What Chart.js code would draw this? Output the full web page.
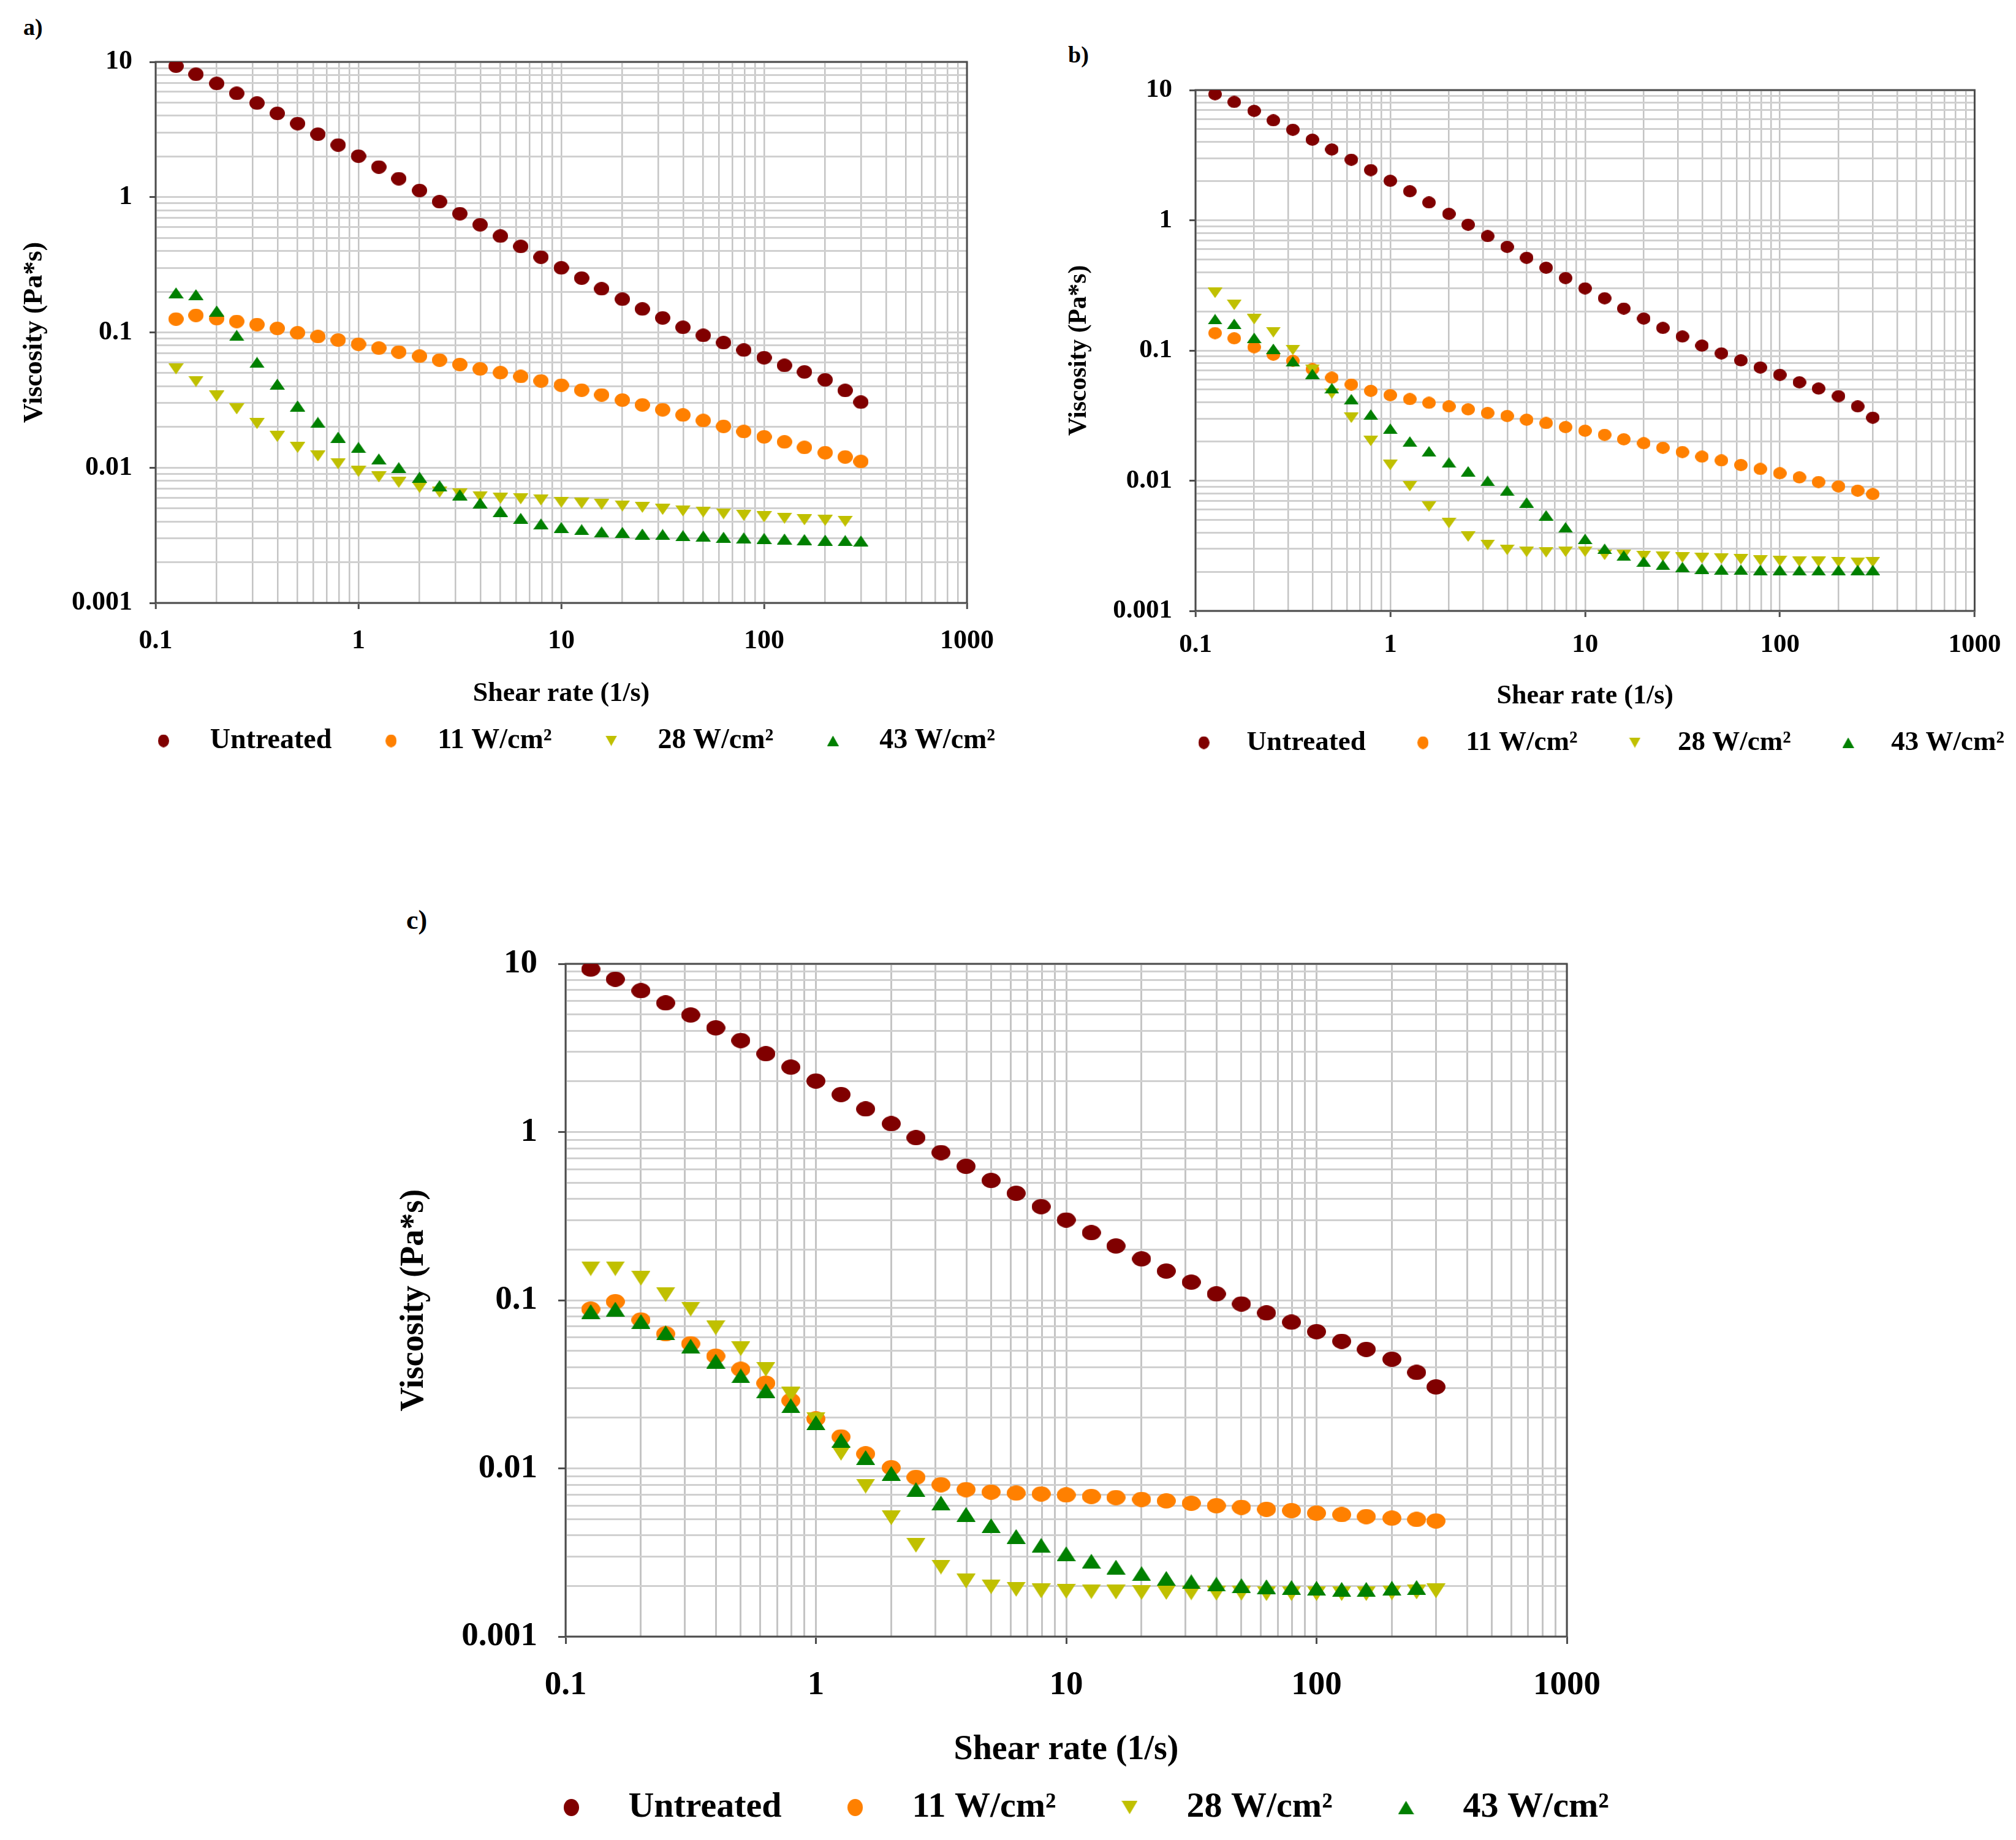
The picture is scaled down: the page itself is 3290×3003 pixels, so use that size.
<!DOCTYPE html>
<html>
<head>
<meta charset="utf-8">
<script src="https://cdn.jsdelivr.net/npm/chart.js@4.4.1/dist/chart.umd.min.js"></script>
<style>
html,body{margin:0;padding:0;background:#fff;width:3290px;height:3003px;overflow:hidden;position:relative;}
canvas{position:absolute;}
.lbl{position:absolute;font-family:"Liberation Serif","Times New Roman",serif;font-weight:bold;color:#000;line-height:1;}
</style>
</head>
<body>
<div class="lbl" style="left:38px;top:25px;font-size:38px">a)</div>
<div class="lbl" style="left:1743px;top:70px;font-size:38px">b)</div>
<div class="lbl" style="left:663px;top:1480px;font-size:44px">c)</div>
<canvas id="ca" width="1900" height="1300" style="left:-150px;top:0px;width:1900px;height:1300px"></canvas>
<canvas id="cb" width="1840" height="1240" style="left:1450px;top:60px;width:1840px;height:1240px"></canvas>
<canvas id="cc" width="2300" height="1550" style="left:500px;top:1450px;width:2300px;height:1550px"></canvas>
<script>
// ---------------- data ----------------
const shearRate = [0.126, 0.158, 0.2, 0.251, 0.316, 0.398, 0.501, 0.631, 0.794, 1, 1.26, 1.58, 2, 2.51, 3.16, 3.98, 5.01, 6.31, 7.94, 10, 12.6, 15.8, 20, 25.1, 31.6, 39.8, 50.1, 63.1, 79.4, 100, 126, 158, 200, 251, 300];

const untreated = [9.3, 8.1, 6.92, 5.85, 4.96, 4.16, 3.5, 2.92, 2.43, 2.01, 1.67, 1.37, 1.12, 0.925, 0.755, 0.625, 0.515, 0.432, 0.36, 0.30, 0.252, 0.21, 0.176, 0.149, 0.128, 0.109, 0.095, 0.084, 0.074, 0.065, 0.057, 0.051, 0.0446, 0.0372, 0.0305];

// panel a
const a11W = [0.1255, 0.1336, 0.1264, 0.1205, 0.1143, 0.107, 0.0993, 0.0932, 0.0878, 0.0818, 0.0765, 0.0716, 0.0667, 0.0624, 0.0579, 0.0537, 0.0504, 0.0472, 0.0438, 0.0407, 0.0374, 0.0345, 0.0316, 0.0291, 0.0268, 0.0245, 0.0223, 0.0202, 0.0185, 0.0169, 0.0155, 0.0141, 0.0129, 0.0120, 0.0111];
const a28W = [0.0537, 0.0434, 0.0338, 0.0272, 0.0212, 0.0170, 0.0141, 0.0122, 0.0107, 0.00937, 0.00854, 0.00778, 0.00714, 0.00658, 0.00638, 0.00610, 0.00593, 0.00588, 0.00577, 0.00555, 0.00545, 0.00535, 0.00521, 0.00509, 0.00491, 0.00479, 0.00470, 0.00456, 0.00444, 0.00433, 0.00423, 0.00412, 0.00408, 0.00402, null];
const a43W = [0.196, 0.190, 0.144, 0.095, 0.060, 0.0414, 0.0286, 0.0216, 0.0168, 0.0141, 0.0116, 0.0100, 0.0085, 0.00736, 0.00630, 0.00547, 0.00475, 0.00422, 0.00384, 0.00361, 0.00348, 0.00335, 0.00332, 0.00323, 0.00320, 0.00314, 0.00312, 0.00306, 0.00303, 0.00300, 0.00297, 0.00294, 0.00291, 0.00289, 0.00287];

// panel b
const b11W = [0.136, 0.124, 0.106, 0.0929, 0.0833, 0.0719, 0.0618, 0.0548, 0.0490, 0.0454, 0.0423, 0.0396, 0.0372, 0.0353, 0.0331, 0.0314, 0.0294, 0.0277, 0.0258, 0.0242, 0.0225, 0.0208, 0.0194, 0.0179, 0.0166, 0.0153, 0.0143, 0.0132, 0.0123, 0.0114, 0.0106, 0.00977, 0.00904, 0.00839, 0.00788];
const b28W = [0.277, 0.224, 0.174, 0.138, 0.101, 0.0714, 0.0466, 0.0304, 0.0202, 0.0132, 0.00908, 0.00633, 0.00473, 0.00372, 0.00322, 0.00294, 0.00284, 0.00282, 0.00285, 0.00285, 0.00269, 0.00269, 0.00264, 0.00261, 0.00257, 0.00254, 0.00252, 0.00249, 0.00244, 0.00242, 0.00239, 0.00238, 0.00237, 0.00235, 0.00237];
const b43W = [0.174, 0.160, 0.125, 0.103, 0.0824, 0.0661, 0.0513, 0.0423, 0.0322, 0.0251, 0.0200, 0.0168, 0.0138, 0.0118, 0.00996, 0.0084, 0.0068, 0.00542, 0.00438, 0.00357, 0.00300, 0.00266, 0.00239, 0.00226, 0.00217, 0.00211, 0.00208, 0.00207, 0.00206, 0.00206, 0.00205, 0.00205, 0.00206, 0.00206, 0.00206];

// panel c
const c11W = [0.0885, 0.098, 0.0763, 0.0631, 0.0551, 0.0465, 0.0388, 0.0321, 0.0253, 0.0197, 0.0154, 0.0122, 0.0101, 0.00885, 0.0080, 0.00748, 0.00723, 0.00713, 0.00705, 0.00695, 0.00681, 0.00671, 0.00654, 0.00641, 0.00620, 0.00600, 0.00587, 0.00571, 0.00561, 0.00542, 0.00531, 0.00517, 0.00506, 0.00497, 0.00487];
const c28W = [0.154, 0.154, 0.135, 0.108, 0.0885, 0.0685, 0.0515, 0.0388, 0.0276, 0.0195, 0.0123, 0.00784, 0.00509, 0.00349, 0.00259, 0.00214, 0.00198, 0.00191, 0.00187, 0.00186, 0.00185, 0.00184, 0.00183, 0.00183, 0.00182, 0.00181, 0.00181, 0.00180, 0.00180, 0.00180, 0.00180, 0.00180, 0.00182, 0.00184, 0.00187];
const c43W = [0.0856, 0.0885, 0.0748, 0.0640, 0.0533, 0.0434, 0.0355, 0.0290, 0.0236, 0.0187, 0.0147, 0.0116, 0.00935, 0.00748, 0.00623, 0.00533, 0.00457, 0.00394, 0.00349, 0.00311, 0.00281, 0.00259, 0.00237, 0.00222, 0.00212, 0.00205, 0.00201, 0.00198, 0.00196, 0.00194, 0.00191, 0.00191, 0.00194, 0.00196, null];

const seriesLabels = ['Untreated', '11 W/cm\u00B2', '28 W/cm\u00B2', '43 W/cm\u00B2'];
const xTickLabels = ['0.1', '1', '10', '100', '1000'];
const yTickLabels = ['0.001', '0.01', '0.1', '1', '10'];
const xAxisTitle = 'Shear rate (1/s)';
const yAxisTitle = 'Viscosity (Pa*s)';

// ---------------- style ----------------
const colors = ['#800000', '#ff8000', '#c0c000', '#008000'];
const shapes = ['circle', 'circle', 'triDown', 'triUp'];
const FAMILY = "'Liberation Serif', 'Times New Roman', serif";
const AXIS = '#4d4d4d';

function marker(shape, w, h, color) {
  const c = document.createElement('canvas');
  c.width = w; c.height = h;
  const g = c.getContext('2d');
  g.fillStyle = color;
  g.beginPath();
  if (shape === 'circle') g.ellipse(w / 2, h / 2, w / 2, h / 2, 0, 0, Math.PI * 2);
  else if (shape === 'triUp') { g.moveTo(w / 2, 0); g.lineTo(w, h); g.lineTo(0, h); g.closePath(); }
  else { g.moveTo(0, 0); g.lineTo(w, 0); g.lineTo(w / 2, h); g.closePath(); }
  g.fill();
  return c;
}

function decadeValues(e0, e1) {
  const out = [];
  for (let e = e0; e < e1; e++) for (let s = 1; s <= 9; s++) out.push(parseFloat((s * Math.pow(10, e)).toPrecision(6)));
  out.push(Math.pow(10, e1));
  return out;
}
const xGrid = decadeValues(-1, 3);
const yGrid = decadeValues(-3, 1);

function isMajor(v) { const l = Math.log10(v); return Math.abs(l - Math.round(l)) < 1e-6; }
function labelFor(v, labels, minExp) {
  if (!isMajor(v)) return '';
  const r = Math.round(Math.log10(v));
  return labels[r - minExp] || '';
}

const boxPlugin = {
  id: 'plotBox',
  beforeDatasetsDraw(chart) {
    const { ctx, chartArea: a } = chart;
    ctx.save();
    ctx.strokeStyle = AXIS; ctx.lineWidth = 3;
    ctx.strokeRect(a.left, a.top, a.right - a.left, a.bottom - a.top);
    ctx.restore();
  }
};
const legendPlace = {
  id: 'legendPlace',
  afterLayout(chart, args, opts) {
    const lg = chart.legend;
    if (!lg) return;
    const dx = opts.cx - (lg.left + lg.right) / 2;
    lg.left += dx; lg.right += dx;
    lg.top = opts.cy - opts.pad - opts.fs / 2;
    lg.bottom = lg.top + opts.fs + 2 * opts.pad + 40;
  }
};

function buildChart(id, p) {
  const datasets = p.series.map((vals, k) => ({
    label: seriesLabels[k],
    data: shearRate.map((x, i) => (vals[i] == null ? null : { x: x, y: vals[i] })).filter(d => d),
    pointStyle: marker(shapes[k], ...(shapes[k] === 'circle' ? p.circle : p.tri), colors[k]),
    pointRadius: 12,
    pointHoverRadius: 12,
    backgroundColor: colors[k],
    borderColor: colors[k],
    showLine: false,
    order: 4 - k
  }));
  const tickFont = { family: FAMILY, size: p.tickFont, weight: 'bold', lineHeight: 1 };
  const titleFont = { family: FAMILY, size: p.titleFont, weight: 'bold', lineHeight: 1 };
  const yTitleFont = { family: FAMILY, size: p.yTitleFont || p.titleFont, weight: 'bold', lineHeight: 1 };
  const tickColor = c => (c.tick && isMajor(c.tick.value) ? AXIS : 'rgba(0,0,0,0)');
  return new Chart(document.getElementById(id), {
    type: 'scatter',
    data: { datasets },
    plugins: [boxPlugin, legendPlace],
    options: {
      responsive: false,
      animation: false,
      devicePixelRatio: 1,
      events: [],
      layout: { padding: p.layoutPad },
      plugins: {
        tooltip: { enabled: false },
        legendPlace: { cx: p.legendCx, cy: p.legendCy, pad: p.legendPad, fs: p.legendFont },
        legend: {
          display: true,
          position: 'bottom',
          maxHeight: 1,
          labels: {
            usePointStyle: true,
            pointStyleWidth: p.legendBox,
            padding: p.legendPad,
            color: '#000',
            font: { family: FAMILY, size: p.legendFont, weight: 'bold', lineHeight: 1 },
            generateLabels: chart => chart.data.datasets.map((ds, k) => ({
              text: ds.label,
              fillStyle: colors[k],
              strokeStyle: colors[k],
              fontColor: '#000',
              lineWidth: 0,
              hidden: false,
              datasetIndex: k,
              pointStyle: marker(shapes[k], ...(shapes[k] === 'circle' ? p.lgCircle : p.lgTri), colors[k])
            }))
          }
        }
      },
      scales: {
        x: {
          type: 'logarithmic',
          position: 'bottom',
          min: 0.1, max: 1000,
          afterBuildTicks: s => { s.ticks = xGrid.map(v => ({ value: v })); },
          afterFit: s => { s.height = p.xAxisH; },
          ticks: { autoSkip: false, maxRotation: 0, minRotation: 0, padding: p.xTickPad, color: '#000', font: tickFont,
                   callback: v => labelFor(v, xTickLabels, -1) },
          grid: { color: '#c4c4c4', lineWidth: p.vGridW, drawTicks: true, tickLength: p.tickLen, tickWidth: 3, tickColor: tickColor },
          border: { display: false },
          title: { display: true, text: xAxisTitle, color: '#000', font: titleFont, padding: { top: 0, bottom: p.xTitlePad } }
        },
        y: {
          type: 'logarithmic',
          position: 'left',
          min: 0.001, max: 10,
          afterBuildTicks: s => { s.ticks = yGrid.map(v => ({ value: v })); },
          afterFit: s => { s.width = p.yAxisW; },
          ticks: { autoSkip: false, padding: p.yTickPad, color: '#000', font: tickFont,
                   callback: v => labelFor(v, yTickLabels, -3) },
          grid: { color: '#d0d0d0', lineWidth: p.hGridW, drawTicks: true, tickLength: p.tickLen, tickWidth: 3, tickColor: tickColor },
          border: { display: false },
          title: { display: true, text: yAxisTitle, color: '#000', font: yTitleFont, padding: { top: p.yTitlePad, bottom: 0 } }
        }
      }
    }
  });
}

buildChart('ca', {
  series: [untreated, a11W, a28W, a43W],
  circle: [25, 22], tri: [25, 18], lgCircle: [18, 21], lgTri: [19, 17],
  tickFont: 44, titleFont: 44, legendFont: 46, legendBox: 106, legendPad: 44,
  layoutPad: { top: 101, right: 172, bottom: 115, left: 0 },
  yAxisW: 404, xAxisH: 200, tickLen: 10,
  xTickPad: 31, xTitlePad: 29, yTickPad: 28, yTitlePad: 185,
  vGridW: 2.5, hGridW: 3,
  legendCx: 1069, legendCy: 1209
});
buildChart('cb', {
  series: [untreated, b11W, b28W, b43W],
  circle: [22, 20], tri: [24, 17], lgCircle: [18, 21], lgTri: [19, 17],
  tickFont: 43, titleFont: 44, yTitleFont: 41.5, legendFont: 45, legendBox: 95, legendPad: 46,
  layoutPad: { top: 87, right: 67, bottom: 102, left: 0 },
  yAxisW: 501, xAxisH: 200, tickLen: 10,
  xTickPad: 24.5, xTitlePad: 38, yTickPad: 28, yTitlePad: 291,
  vGridW: 2.5, hGridW: 3,
  legendCx: 1144, legendCy: 1152
});
buildChart('cc', {
  series: [untreated, c11W, c28W, c43W],
  circle: [31, 25], tri: [31, 24], lgCircle: [25, 28], lgTri: [26, 22],
  tickFont: 55, titleFont: 56, yTitleFont: 54, legendFont: 58, legendBox: 128, legendPad: 56,
  layoutPad: { top: 123, right: 243, bottom: 78, left: 0 },
  yAxisW: 423, xAxisH: 250, tickLen: 12,
  xTickPad: 40.5, xTitlePad: 36, yTickPad: 34, yTitlePad: 149,
  vGridW: 3, hGridW: 3,
  legendCx: 1247, legendCy: 1500
});
</script>
</body>
</html>
